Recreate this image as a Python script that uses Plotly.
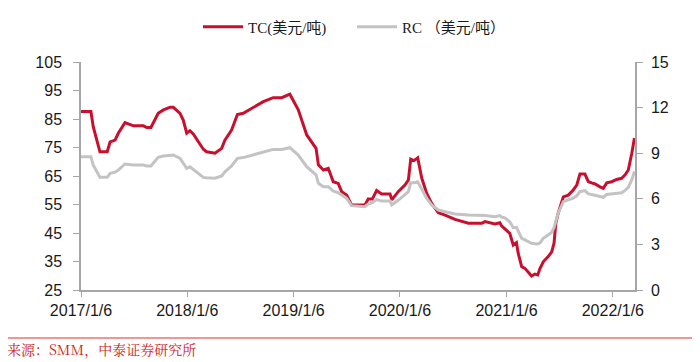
import plotly.graph_objects as go

dates = [
    "2017-01-06", "2017-02-09", "2017-02-17", "2017-03-12", "2017-04-06", "2017-04-16",
    "2017-05-03", "2017-05-14", "2017-06-06", "2017-07-05", "2017-08-08", "2017-08-20",
    "2017-09-03", "2017-09-28", "2017-10-16", "2017-11-08", "2017-11-19", "2017-12-12",
    "2017-12-23", "2018-01-04", "2018-01-15", "2018-01-27", "2018-02-13", "2018-03-02",
    "2018-03-13", "2018-04-11", "2018-05-04", "2018-05-15", "2018-06-07", "2018-06-27",
    "2018-07-17", "2018-08-20", "2018-09-24", "2018-10-28", "2018-11-26", "2018-12-24",
    "2019-01-22", "2019-02-20", "2019-03-24", "2019-04-01", "2019-04-18", "2019-05-05",
    "2019-05-22", "2019-06-08", "2019-06-20", "2019-07-07", "2019-07-24", "2019-09-08",
    "2019-09-19", "2019-10-03", "2019-10-18", "2019-11-04", "2019-12-03", "2019-12-09",
    "2019-12-31", "2020-01-23", "2020-02-04", "2020-02-12", "2020-02-23", "2020-03-07",
    "2020-03-21", "2020-04-07", "2020-04-24", "2020-05-17", "2020-06-09", "2020-07-13",
    "2020-08-28", "2020-10-13", "2020-10-24", "2020-11-27", "2020-12-14", "2020-12-20",
    "2020-12-31", "2021-01-17", "2021-01-29", "2021-02-09", "2021-02-15", "2021-02-27",
    "2021-03-10", "2021-03-21", "2021-04-02", "2021-04-13", "2021-04-23", "2021-05-01",
    "2021-05-12", "2021-05-29", "2021-06-10", "2021-06-18", "2021-06-24", "2021-07-02",
    "2021-07-20", "2021-08-06", "2021-08-23", "2021-09-04", "2021-09-15", "2021-10-02",
    "2021-10-14", "2021-10-25", "2021-11-06", "2021-11-23", "2021-12-04", "2021-12-16",
    "2022-01-02", "2022-01-19", "2022-02-05", "2022-02-17", "2022-02-28", "2022-03-12",
    "2022-03-21",
]

tc_values = [
    87.6, 87.6, 82.3, 73.5, 73.5, 77.0,
    77.6, 80.0, 83.7, 82.6, 82.6, 82.0,
    82.0, 87.0, 88.2, 89.1, 89.1, 87.0,
    84.6, 80.0, 80.9, 79.7, 77.0, 74.4,
    73.5, 73.0, 74.7, 77.6, 81.1, 86.6,
    87.0, 89.1, 91.1, 92.5, 92.5, 93.7,
    88.2, 79.4, 74.7, 68.9, 67.1, 67.7,
    63.0, 62.4, 59.5, 58.3, 54.8, 54.8,
    56.9, 56.9, 59.9, 58.7, 58.7, 56.6,
    59.5, 61.8, 63.6, 70.9, 70.4, 71.4,
    64.2, 58.9, 55.4, 52.1, 51.3, 49.8,
    48.4, 48.4, 49.0, 48.2, 48.6, 47.5,
    46.6, 44.9, 40.8, 41.6, 37.9, 33.2,
    32.6, 31.4, 29.9, 30.6, 30.3, 32.6,
    34.9, 36.7, 38.4, 41.4, 48.4, 51.9,
    57.7, 58.3, 60.1, 61.8, 65.7, 65.7,
    63.0, 62.6, 62.2, 61.2, 60.7, 62.6,
    63.0, 63.8, 64.2, 65.4, 67.1, 73.0,
    78.3,
]

rc_values = [
    8.77, 8.77, 8.22, 7.41, 7.41, 7.68,
    7.75, 7.89, 8.29, 8.22, 8.22, 8.16,
    8.16, 8.73, 8.82, 8.88, 8.88, 8.66,
    8.38, 8.00, 8.11, 7.94, 7.68, 7.41,
    7.38, 7.35, 7.50, 7.78, 8.16, 8.66,
    8.71, 8.88, 9.10, 9.25, 9.25, 9.36,
    8.88, 8.11, 7.57, 7.02, 6.80, 6.80,
    6.51, 6.40, 6.25, 6.03, 5.55, 5.48,
    5.65, 5.74, 5.95, 5.85, 5.85, 5.60,
    5.90, 6.25, 6.47, 7.06, 7.05, 7.12,
    6.58, 6.03, 5.60, 5.26, 5.15, 5.00,
    4.93, 4.93, 4.90, 4.82, 4.90, 4.80,
    4.75, 4.49, 4.10, 4.12, 3.90, 3.40,
    3.30, 3.20, 3.07, 3.05, 3.03, 3.10,
    3.40, 3.62, 3.80, 4.10, 4.60, 5.05,
    5.81, 5.92, 6.05, 6.20, 6.47, 6.54,
    6.32, 6.28, 6.22, 6.14, 6.10, 6.28,
    6.32, 6.40, 6.40, 6.55, 6.75, 7.24,
    7.80,
]

x_tickvals = ["2017-01-06", "2018-01-06", "2019-01-06", "2020-01-06", "2021-01-06", "2022-01-06"]
x_ticktext = ["2017/1/6", "2018/1/6", "2019/1/6", "2020/1/6", "2021/1/6", "2022/1/6"]
left_ticks = [25, 35, 45, 55, 65, 75, 85, 95, 105]
right_ticks = [0, 3, 6, 9, 12, 15]

tc_name = "TC(美元/吨)"
rc_name = "RC （美元/吨）"
source_text = "来源：SMM，中泰证券研究所"

RED = "#C8102E"
GRAY = "#C3C3C3"
AXIS = "#A6A6A6"
TXT = "#1a1a1a"
TICKFONT = dict(family="Liberation Sans, Arial", size=16, color=TXT)

fig = go.Figure()
fig.add_trace(go.Scatter(x=dates, y=tc_values, mode="lines", name=tc_name,
                         line=dict(color=RED, width=3), yaxis="y"))
fig.add_trace(go.Scatter(x=dates, y=rc_values, mode="lines", name=rc_name,
                         line=dict(color=GRAY, width=3), yaxis="y2"))

# page body has an 8px margin; target positions are shifted accordingly
OFF = 8
W, H = 700, 362
L, T = 81 - OFF, 62 - OFF
R = W - (635 - OFF)
B = H - (290 - OFF)
pw = W - L - R
ph = H - T - B

def px_x(p):
    return (p - OFF - L) / pw

def px_y(p):
    return (H - B - (p - OFF)) / ph

fig.update_layout(
    width=W, height=H,
    margin=dict(l=L, r=R, t=T, b=B, autoexpand=False),
    paper_bgcolor="white", plot_bgcolor="white",
    showlegend=True,
    legend=dict(orientation="h", xref="container", yref="container",
                x=(352 - OFF) / W, xanchor="center",
                y=1 - (27 - OFF) / H, yanchor="middle",
                font=dict(family="Liberation Serif, Noto Sans CJK SC", size=15, color=TXT),
                itemwidth=40, entrywidth=99, bgcolor="rgba(0,0,0,0)", tracegroupgap=0),
    xaxis=dict(type="date", range=["2017-01-06", "2022-03-23"],
               tickvals=x_tickvals, ticktext=x_ticktext,
               showgrid=False, zeroline=False,
               showline=True, linecolor=AXIS, linewidth=1.5,
               ticks="outside", ticklen=5, tickcolor=AXIS, tickwidth=1,
               tickfont=TICKFONT),
    yaxis=dict(range=[25, 105], tickvals=left_ticks,
               showgrid=False, zeroline=False,
               showline=True, linecolor=AXIS, linewidth=1.5,
               ticks="outside", ticklen=6, tickcolor=AXIS, tickwidth=1,
               ticklabelstandoff=8, tickfont=TICKFONT),
    yaxis2=dict(range=[0, 15], tickvals=right_ticks, overlaying="y", side="right",
                showgrid=False, zeroline=False,
                showline=True, linecolor=AXIS, linewidth=1.5,
                ticks="outside", ticklen=6, tickcolor=AXIS, tickwidth=1,
                ticklabelstandoff=5, tickfont=TICKFONT),
    shapes=[dict(type="line", xref="paper", yref="paper",
                 x0=px_x(5), x1=px_x(695), y0=px_y(338), y1=px_y(338),
                 line=dict(color="#E03030", width=1.2))],
    annotations=[dict(text=source_text, xref="paper", yref="paper",
                      x=px_x(5), y=px_y(349), xanchor="left", yanchor="middle",
                      showarrow=False,
                      font=dict(family="Noto Serif CJK SC, Noto Sans CJK SC", size=14, color="#D02020"))],
)

fig.write_html("out.html")
